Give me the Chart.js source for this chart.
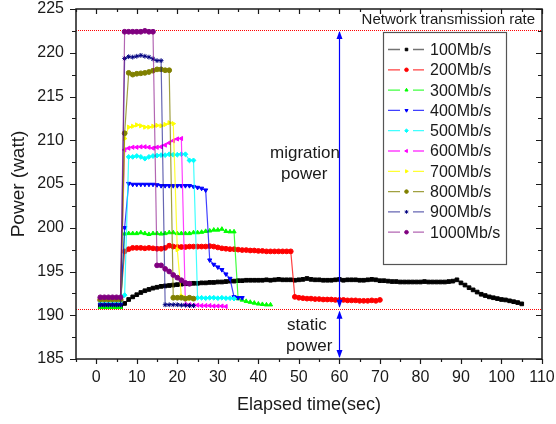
<!DOCTYPE html>
<html><head><meta charset="utf-8">
<script src="https://cdn.jsdelivr.net/npm/chart.js@4.4.1/dist/chart.umd.min.js"></script>
<style>html,body{margin:0;padding:0;background:#fff}#wrap{width:556px;height:424px}</style>
</head><body><div id="wrap"><canvas id="c" width="556" height="424"></canvas></div>
<script>
const startTime = 1; // first sample (sec); one sample per second
const seriesLabels = ['100Mb/s','200Mb/s','300Mb/s','400Mb/s','500Mb/s','600Mb/s','700Mb/s','800Mb/s','900Mb/s','1000Mb/s'];
const power100 = [191.0,191.0,191.0,191.0,191.0,191.0,
 191.35,191.8,192.1,192.35,192.6,192.8,192.95,193.1,193.2,193.3,
 193.35,193.4,193.45,193.5,193.55,193.6,193.6,193.65,193.65,193.7,
 193.7,193.75,193.75,193.8,193.8,193.85,193.9,193.9,193.95,193.95,
 194.0,194.0,194.0,194.0,194.0,194.05,194.0,194.05,194.1,194.05,
 194.05,194.05,194.0,194.05,194.1,194.2,194.1,194.05,194.05,194.0,
 194.0,194.0,194.05,194.1,194.0,194.05,194.05,194.05,194.0,194.0,
 194.05,194.1,194.05,193.95,193.95,193.9,193.85,193.85,193.8,193.8,
 193.8,193.8,193.8,193.8,193.85,193.8,193.8,193.8,193.8,193.8,
 193.85,193.9,194.05,193.7,193.45,193.15,192.9,192.65,192.4,192.25,
 192.1,192.0,191.9,191.8,191.75,191.65,191.55,191.45,191.3];
const power200 = [191.7,191.7,191.7,191.7,191.7,191.7,197.3,
 197.55,197.7,197.7,197.7,197.65,197.7,197.65,197.6,197.6,197.7,
 197.95,197.85,197.8,197.8,197.8,197.85,197.85,197.85,197.85,197.85,
 197.9,197.85,197.75,197.65,197.6,197.55,197.55,197.5,197.45,197.45,
 197.4,197.4,197.35,197.35,197.3,197.3,197.3,197.3,197.3,197.3,197.3,
 192.1,192.0,191.95,191.9,191.9,191.85,191.85,191.8,191.8,191.8,191.75,
 191.75,191.75,191.7,191.7,191.7,191.65,191.65,191.65,191.7,191.65,191.75];
const power300 = [190.9,190.9,190.9,190.9,190.9,190.9,199.3,
 199.35,199.35,199.35,199.45,199.35,199.25,199.35,199.35,199.3,199.35,
 199.45,199.45,199.35,199.35,199.35,199.35,199.45,199.45,199.5,199.6,
 199.65,199.75,199.75,199.85,199.6,199.55,199.55,
 191.9,191.75,191.6,191.5,191.4,191.3,191.25,191.2,191.2];
const power400 = [191.2,191.2,191.2,191.2,191.2,191.2,200.0,
 205.05,204.95,204.95,204.95,204.95,204.95,204.95,204.9,204.8,204.8,
 204.8,204.8,204.8,204.8,204.8,204.8,204.7,204.6,204.5,204.3,
 196.3,195.8,195.5,195.2,194.7,194.2,192.1,192.0,192.0];
const power500 = [191.6,191.6,191.6,191.6,191.6,191.6,192.3,
 208.1,208.1,208.2,208.1,207.9,208.1,208.2,208.25,208.3,208.3,208.4,208.35,208.35,208.4,208.4,
 207.7,207.7,
 192.0,192.0,191.95,192.0,192.0,191.95,192.0,191.95,191.95,191.9];
const power600 = [191.9,191.9,191.9,191.9,191.9,191.9,
 208.9,209.1,209.2,209.2,209.25,209.25,209.2,209.1,209.2,209.25,209.45,209.7,209.95,210.15,210.2,
 191.2,191.2,191.15,191.15,191.1,191.1,191.1,191.05,191.05,191.05,191.0];
const power700 = [191.8,191.8,191.8,191.8,191.8,191.8,210.2,
 211.5,211.6,211.75,211.65,211.5,211.5,211.6,211.7,211.65,211.8,212.0,211.9,
 197.5,192.2,192.0,191.9,191.9];
const power800 = [191.8,191.8,191.8,191.8,191.8,191.8,210.8,
 217.7,217.5,217.6,217.65,217.7,217.8,217.95,218.1,218.1,218.0,218.0,
 192.0,192.0,192.0,191.9,192.0,191.9];
const power900 = [191.2,191.2,191.2,191.2,191.2,191.2,
 219.35,219.55,219.5,219.6,219.7,219.6,219.5,219.3,219.1,219.1,
 191.2,191.2,191.2,191.2,191.15,191.15,191.1,191.1];
const power1000 = [192.05,192.05,192.05,192.05,192.05,192.05,
 222.4,222.4,222.4,222.4,222.4,222.5,222.4,222.4,
 195.7,195.7,195.3,195.0,194.6,194.3,194.0,193.7,193.6];
const allSeries = [power100,power200,power300,power400,power500,power600,power700,power800,power900,power1000];

const xTickValues = [0,10,20,30,40,50,60,70,80,90,100,110];
const xMinorTicks = [-5,5,15,25,35,45,55,65,75,85,95,105];
const yTickValues = [185,190,195,200,205,210,215,220,225];
const yMinorTicks = [187.5,192.5,197.5,202.5,207.5,212.5,217.5,222.5];
const refLevels = [222.6, 190.75];     // max and static power levels (red dotted)
const arrowTime = 60;                   // blue double arrows at t = 60 s

const colors = ['#000000','#ff0000','#00ff00','#0000ff','#00ffff','#ff00ff','#ffff00','#808000','#000080','#800080'];
const lineColors = ['rgba(0,0,0,0.55)','rgba(255,0,0,0.75)','rgba(0,255,0,0.75)','rgba(0,0,255,0.75)','rgba(0,255,255,0.75)','rgba(255,0,255,0.75)','rgba(255,255,0,0.8)','rgba(128,128,0,0.75)','rgba(0,0,128,0.6)','rgba(128,0,128,0.6)'];
const pointStyles = ['rect','circle','triangle','triangle','rectRot','triangle','triangle','circle','star','circle'];
const pointRotations = [0,0,0,180,0,270,90,0,0,0];

const FONT = "'Liberation Sans', Arial, Helvetica, sans-serif";
Chart.defaults.font.family = FONT;
Chart.defaults.color = '#1a1a1a';

const datasets = allSeries.map((vals, i) => ({
  label: seriesLabels[i],
  data: vals.map((v, k) => ({x: startTime + k, y: v})),
  borderColor: lineColors[i],
  backgroundColor: colors[i],
  pointBackgroundColor: colors[i],
  pointBorderColor: colors[i],
  pointStyle: pointStyles[i],
  pointRotation: pointRotations[i],
  pointRadius: pointStyles[i] === 'rect' ? 2.6 : 2.4,
  pointBorderWidth: 1,
  borderWidth: 1.2,
  tension: 0,
  fill: false,
  order: allSeries.length - i
}));

function drawArrowHead(ctx, x, tipY, dir) {
  ctx.beginPath();
  ctx.moveTo(x, tipY);
  ctx.lineTo(x - 3, tipY - dir * 8);
  ctx.lineTo(x + 3, tipY - dir * 8);
  ctx.closePath();
  ctx.fill();
}

const decorPlugin = {
  id: 'decor',
  beforeDatasetsDraw(chart) {
    const {ctx, chartArea: a, scales: {y}} = chart;
    ctx.save();
    ctx.strokeStyle = '#ff0000';
    ctx.lineWidth = 1;
    ctx.setLineDash([1, 1]);
    refLevels.forEach(v => {
      const py = Math.round(y.getPixelForValue(v)) + 0.5;
      ctx.beginPath(); ctx.moveTo(a.left, py); ctx.lineTo(a.right, py); ctx.stroke();
    });
    ctx.restore();
  },
  afterDatasetsDraw(chart) {
    const {ctx, chartArea: a, scales: {x, y}} = chart;
    ctx.save();
    const ax = Math.round(x.getPixelForValue(arrowTime)) + 0.5;
    const yTop = y.getPixelForValue(refLevels[0]);
    const yMid = y.getPixelForValue(refLevels[1]);
    const yBot = y.getPixelForValue(y.min);
    ctx.strokeStyle = '#0000ff'; ctx.fillStyle = '#0000ff'; ctx.lineWidth = 1.2;
    ctx.beginPath(); ctx.moveTo(ax, yTop + 2); ctx.lineTo(ax, yMid - 2); ctx.stroke();
    drawArrowHead(ctx, ax, yTop + 1, -1);
    drawArrowHead(ctx, ax, yMid - 1, 1);
    ctx.beginPath(); ctx.moveTo(ax, yMid + 3); ctx.lineTo(ax, yBot - 2); ctx.stroke();
    drawArrowHead(ctx, ax, yMid + 2, -1);
    drawArrowHead(ctx, ax, yBot - 1, 1);

    ctx.strokeStyle = '#1a1a1a'; ctx.lineWidth = 1.5;
    ctx.strokeRect(a.left, a.top, a.right - a.left, a.bottom - a.top);
    ctx.lineWidth = 1.2;
    const tk = (vals, len, horiz) => {
      vals.forEach(v => {
        if (horiz) {
          if (v < x.min || v > x.max) return;
          const px = Math.round(x.getPixelForValue(v)) + 0.5;
          ctx.beginPath();
          ctx.moveTo(px, a.bottom); ctx.lineTo(px, a.bottom + len);
          ctx.moveTo(px, a.top); ctx.lineTo(px, a.top + len);
          ctx.stroke();
        } else {
          const py = Math.round(y.getPixelForValue(v)) + 0.5;
          ctx.beginPath();
          ctx.moveTo(a.left, py); ctx.lineTo(a.left - len, py);
          ctx.moveTo(a.right, py); ctx.lineTo(a.right - len, py);
          ctx.stroke();
        }
      });
    };
    tk(xTickValues, 5, true); tk(xMinorTicks, 3, true);
    tk(yTickValues, 6, false); tk(yMinorTicks, 4, false);

    ctx.fillStyle = '#1a1a1a';
    ctx.textBaseline = 'middle';
    ctx.font = '15px ' + FONT;
    ctx.textAlign = 'right';
    ctx.fillText('Network transmission rate', 535, 20);
    ctx.textAlign = 'left';
    ctx.font = '17px ' + FONT;
    ctx.fillText('migration', 270, 153);
    ctx.fillText('power', 281, 174);
    ctx.fillText('static', 287, 325);
    ctx.fillText('power', 286, 346);
    ctx.restore();
  },
  afterDraw(chart) {
    const {ctx} = chart;
    const ds = chart.data.datasets;
    ctx.save();
    const bx = 383, by = 32, bw = 123, bh = 232;
    ctx.fillStyle = '#ffffff';
    ctx.fillRect(bx, by, bw, bh);
    ctx.strokeStyle = '#555'; ctx.lineWidth = 1.2;
    ctx.strokeRect(bx + 0.5, by + 0.5, bw, bh);
    ctx.font = '16px ' + FONT;
    ctx.textBaseline = 'middle'; ctx.textAlign = 'left';
    ds.forEach((d, i) => {
      const cy = 49.5 + i * 20.3;
      ctx.strokeStyle = d.borderColor; ctx.lineWidth = 1.3;
      ctx.beginPath();
      ctx.moveTo(388, cy); ctx.lineTo(400, cy);
      ctx.moveTo(413, cy); ctx.lineTo(424, cy);
      ctx.stroke();
      ctx.fillStyle = d.pointBackgroundColor; ctx.strokeStyle = d.pointBorderColor; ctx.lineWidth = 1;
      Chart.helpers.drawPoint(ctx, {pointStyle: d.pointStyle, rotation: d.pointRotation, radius: 1.8, borderWidth: 1}, 406.5, cy);
      ctx.fillStyle = '#1a1a1a';
      ctx.fillText(d.label, 430, cy + 1);
    });
    ctx.restore();
  }
};

new Chart(document.getElementById('c'), {
  type: 'line',
  data: {datasets},
  options: {
    responsive: false,
    animation: false,
    devicePixelRatio: 1,
    layout: {padding: {top: 9, right: 14, left: 0, bottom: 0}},
    plugins: {legend: {display: false}, tooltip: {enabled: false}},
    scales: {
      x: {
        type: 'linear', min: -5, max: 110,
        afterBuildTicks: s => { s.ticks = xTickValues.map(v => ({value: v})); },
        ticks: {font: {size: 16}, color: '#1a1a1a', padding: 9, maxRotation: 0, autoSkip: false, callback: v => String(v)},
        grid: {display: false, drawTicks: false, tickLength: 0},
        border: {display: false},
        title: {display: true, text: 'Elapsed time(sec)', font: {size: 18}, color: '#1a1a1a', padding: {top: 0, bottom: 8}},
        afterFit: s => { s.height = 65; s.paddingLeft = 0; s.paddingRight = 0; }
      },
      y: {
        type: 'linear', min: 185, max: 225,
        afterBuildTicks: s => { s.ticks = yTickValues.map(v => ({value: v})); },
        ticks: {font: {size: 16}, color: '#1a1a1a', padding: 12, autoSkip: false, callback: v => String(v)},
        grid: {display: false, drawTicks: false, tickLength: 0},
        border: {display: false},
        title: {display: true, text: 'Power (watt)', font: {size: 19}, color: '#1a1a1a', padding: {top: 7, bottom: 0}},
        afterFit: s => { s.width = 76; s.paddingTop = 0; s.paddingBottom = 0; }
      }
    }
  },
  plugins: [decorPlugin]
});
</script>
</body></html>
